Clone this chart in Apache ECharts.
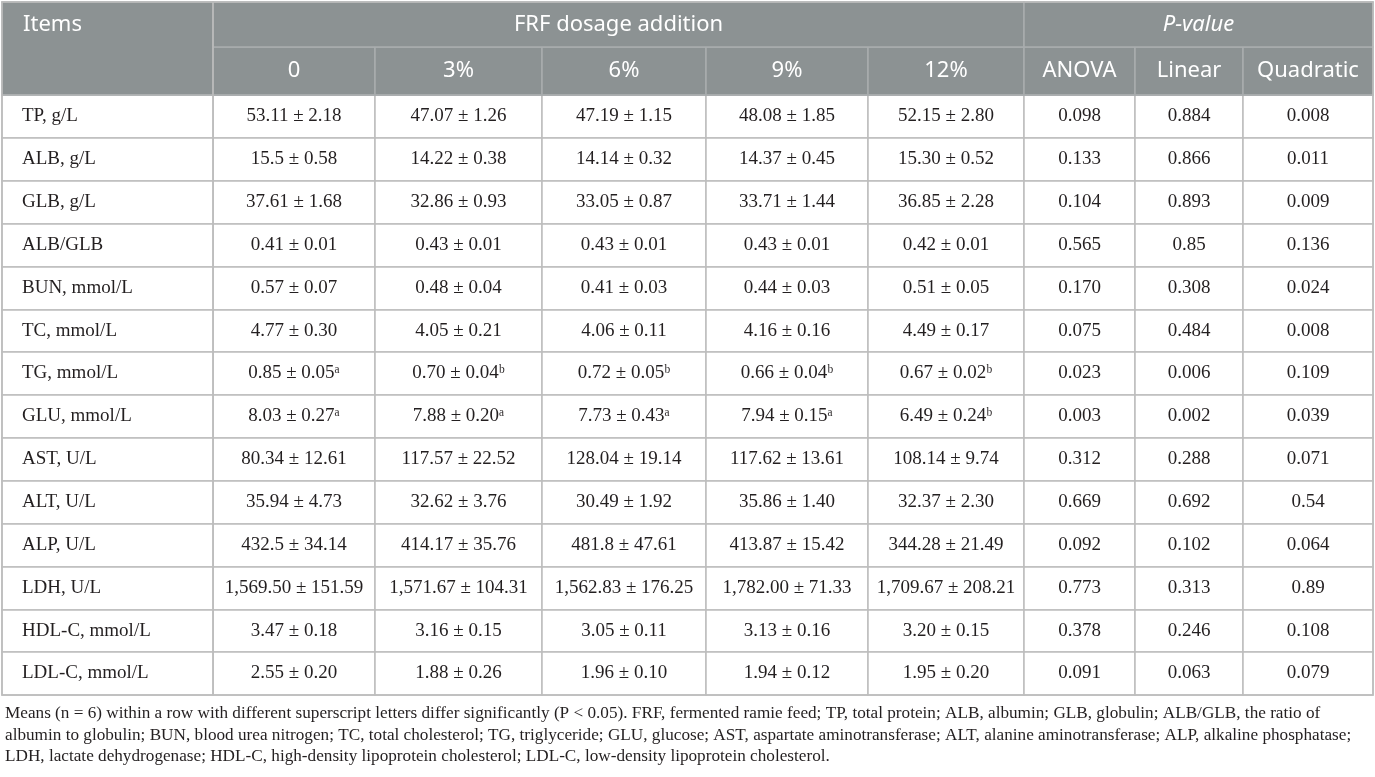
<!DOCTYPE html>
<html>
<head>
<meta charset="utf-8">
<script src="https://cdn.jsdelivr.net/npm/echarts@6.0.0/dist/echarts.min.js"></script>
<style>
  html, body { margin: 0; padding: 0; background: #fff; }
  #table { width: 1375px; height: 777px; }
</style>
</head>
<body>
<div id="table"></div>
<script>
// row labels
var items = ['TP, g/L', 'ALB, g/L', 'GLB, g/L', 'ALB/GLB', 'BUN, mmol/L', 'TC, mmol/L', 'TG, mmol/L',
    'GLU, mmol/L', 'AST, U/L', 'ALT, U/L', 'ALP, U/L', 'LDH, U/L', 'HDL-C, mmol/L', 'LDL-C, mmol/L'];

// column headers
var doses = ['0', '3%', '6%', '9%', '12%'];
var pTests = ['ANOVA', 'Linear', 'Quadratic'];

// mean ± SE per dosage, ^x = superscript letter
var dose0 = ['53.11 ± 2.18', '15.5 ± 0.58', '37.61 ± 1.68', '0.41 ± 0.01', '0.57 ± 0.07', '4.77 ± 0.30',
    '0.85 ± 0.05^a', '8.03 ± 0.27^a', '80.34 ± 12.61', '35.94 ± 4.73', '432.5 ± 34.14', '1,569.50 ± 151.59',
    '3.47 ± 0.18', '2.55 ± 0.20'];
var dose3 = ['47.07 ± 1.26', '14.22 ± 0.38', '32.86 ± 0.93', '0.43 ± 0.01', '0.48 ± 0.04', '4.05 ± 0.21',
    '0.70 ± 0.04^b', '7.88 ± 0.20^a', '117.57 ± 22.52', '32.62 ± 3.76', '414.17 ± 35.76', '1,571.67 ± 104.31',
    '3.16 ± 0.15', '1.88 ± 0.26'];
var dose6 = ['47.19 ± 1.15', '14.14 ± 0.32', '33.05 ± 0.87', '0.43 ± 0.01', '0.41 ± 0.03', '4.06 ± 0.11',
    '0.72 ± 0.05^b', '7.73 ± 0.43^a', '128.04 ± 19.14', '30.49 ± 1.92', '481.8 ± 47.61', '1,562.83 ± 176.25',
    '3.05 ± 0.11', '1.96 ± 0.10'];
var dose9 = ['48.08 ± 1.85', '14.37 ± 0.45', '33.71 ± 1.44', '0.43 ± 0.01', '0.44 ± 0.03', '4.16 ± 0.16',
    '0.66 ± 0.04^b', '7.94 ± 0.15^a', '117.62 ± 13.61', '35.86 ± 1.40', '413.87 ± 15.42', '1,782.00 ± 71.33',
    '3.13 ± 0.16', '1.94 ± 0.12'];
var dose12 = ['52.15 ± 2.80', '15.30 ± 0.52', '36.85 ± 2.28', '0.42 ± 0.01', '0.51 ± 0.05', '4.49 ± 0.17',
    '0.67 ± 0.02^b', '6.49 ± 0.24^b', '108.14 ± 9.74', '32.37 ± 2.30', '344.28 ± 21.49', '1,709.67 ± 208.21',
    '3.20 ± 0.15', '1.95 ± 0.20'];

// P-values
var pAnova = ['0.098', '0.133', '0.104', '0.565', '0.170', '0.075', '0.023', '0.003', '0.312', '0.669',
    '0.092', '0.773', '0.378', '0.091'];
var pLinear = ['0.884', '0.866', '0.893', '0.85', '0.308', '0.484', '0.006', '0.002', '0.288', '0.692',
    '0.102', '0.313', '0.246', '0.063'];
var pQuadratic = ['0.008', '0.011', '0.009', '0.136', '0.024', '0.008', '0.109', '0.039', '0.071', '0.54',
    '0.064', '0.89', '0.108', '0.079'];

var footnote = [
    'Means (n = 6) within a row with different superscript letters differ significantly (P < 0.05). FRF, fermented ramie feed; TP, total protein; ALB, albumin; GLB, globulin; ALB/GLB, the ratio of',
    'albumin to globulin; BUN, blood urea nitrogen; TC, total cholesterol; TG, triglyceride; GLU, glucose; AST, aspartate aminotransferase; ALT, alanine aminotransferase; ALP, alkaline phosphatase;',
    'LDH, lactate dehydrogenase; HDL-C, high-density lipoprotein cholesterol; LDL-C, low-density lipoprotein cholesterol.'
];

// layout
var doseWidths = [162, 167, 164, 162, 156];
var pWidths = [111, 108, 130];
var headBg = '#8c9293';
var headLine = '#a9adae';
var bodyLine = '#bdbdbd';
var ink = '#231f20';
var serif = 'Liberation Serif';
var sans = 'Noto Sans';

// superscript letters as unicode modifier letters
var supChar = { a: '\u1d43', b: '\u1d47' };

var columns = [dose0, dose3, dose6, dose9, dose12, pAnova, pLinear, pQuadratic];
var bodyData = [];
columns.forEach(function (col, ci) {
    col.forEach(function (v, ri) {
        var txt = v.replace(/\^(\w)/g, function (m, c) { return supChar[c]; });
        bodyData.push({ coord: [ci, ri], value: txt });
    });
});

var headLabel = { color: '#fff', fontSize: 22, fontFamily: sans };
var headStyle = { color: headBg, borderColor: headLine, borderWidth: 1.5 };

var chart = echarts.init(document.getElementById('table'));
chart.setOption({
    animation: false,
    title: {
        text: footnote.join('\n'),
        left: 0,
        top: 698,
        textStyle: { fontFamily: serif, fontSize: 17.2, fontWeight: 'normal', color: ink, lineHeight: 21.5 }
    },
    matrix: {
        left: 2,
        top: 2,
        width: 1371,
        height: 693,
        backgroundStyle: { color: '#fff', borderColor: bodyLine, borderWidth: 1.5 },
        x: {
            levels: [{ levelSize: 45 }, { levelSize: 48 }],
            label: headLabel,
            itemStyle: headStyle,
            dividerLineStyle: { color: headLine, width: 1.5 },
            data: [
                {
                    value: 'FRF dosage addition',
                    children: doses.map(function (d, i) { return { value: d, size: doseWidths[i] }; })
                },
                {
                    value: 'P-value',
                    label: { fontStyle: 'italic' },
                    children: pTests.map(function (d, i) { return { value: d, size: pWidths[i] }; })
                }
            ]
        },
        y: {
            levelSize: 211,
            label: { color: ink, fontSize: 19, fontFamily: serif, position: 'insideLeft', distance: 17 },
            itemStyle: { color: '#fff', borderColor: bodyLine, borderWidth: 1.5 },
            dividerLineStyle: { color: bodyLine, width: 1.5 },
            data: items
        },
        corner: {
            label: headLabel,
            itemStyle: headStyle,
            data: [
                { coord: [-1, [-2, -1]], mergeCells: true, value: 'Items', label: { position: [18, 10] } }
            ]
        },
        body: {
            label: { color: ink, fontSize: 19, fontFamily: serif },
            itemStyle: { color: '#fff', borderColor: bodyLine, borderWidth: 1.5 },
            data: bodyData
        }
    }
});
</script>
</body>
</html>
